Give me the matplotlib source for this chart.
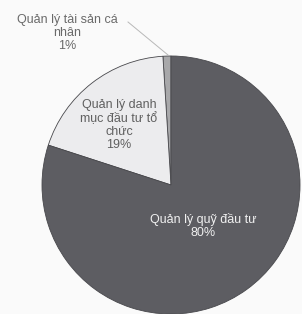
import matplotlib.pyplot as plt

plt.rcParams['font.family'] = ['Liberation Sans', 'DejaVu Sans']

# data
labels = ['Quản lý tài sản cá\nnhân', 'Quản lý danh\nmục đầu tư tổ\nchức', 'Quản lý quỹ đầu tư']
shares = [1, 19, 80]
colors = ['#a8a8aa', '#ececee', '#5d5d62']

W, H = 302, 314
fig = plt.figure(figsize=(W / 100, H / 100), dpi=100)
fig.patch.set_facecolor('#fafafa')
ax = fig.add_axes([0, 0, 1, 1])

cx, cy, r = 171, H - 185, 129
wedges, _ = ax.pie(shares, colors=colors, startangle=90, counterclock=True,
                   center=(cx, cy), radius=r, frame=True,
                   wedgeprops=dict(edgecolor='#48484c', linewidth=0.6))
ax.set_xlim(0, W)
ax.set_ylim(0, H)
ax.set_aspect('equal')
ax.axis('off')

# labels
txt = dict(ha='center', va='center', fontsize=9, linespacing=1.1)
ax.text(67, H - 33, labels[0] + '\n' + '%d%%' % shares[0], color='#6a6a6a', **txt)
ax.plot([128, 168], [H - 22, H - 55], color='#b8b8b8', lw=0.7)
ax.text(119, H - 125, labels[1] + '\n' + '%d%%' % shares[1], color='#606060', **txt)
ax.text(203, H - 226, labels[2] + '\n' + '%d%%' % shares[2], color='#f0f0f0', **txt)

fig.savefig('out.png', dpi=100, facecolor=fig.get_facecolor())
